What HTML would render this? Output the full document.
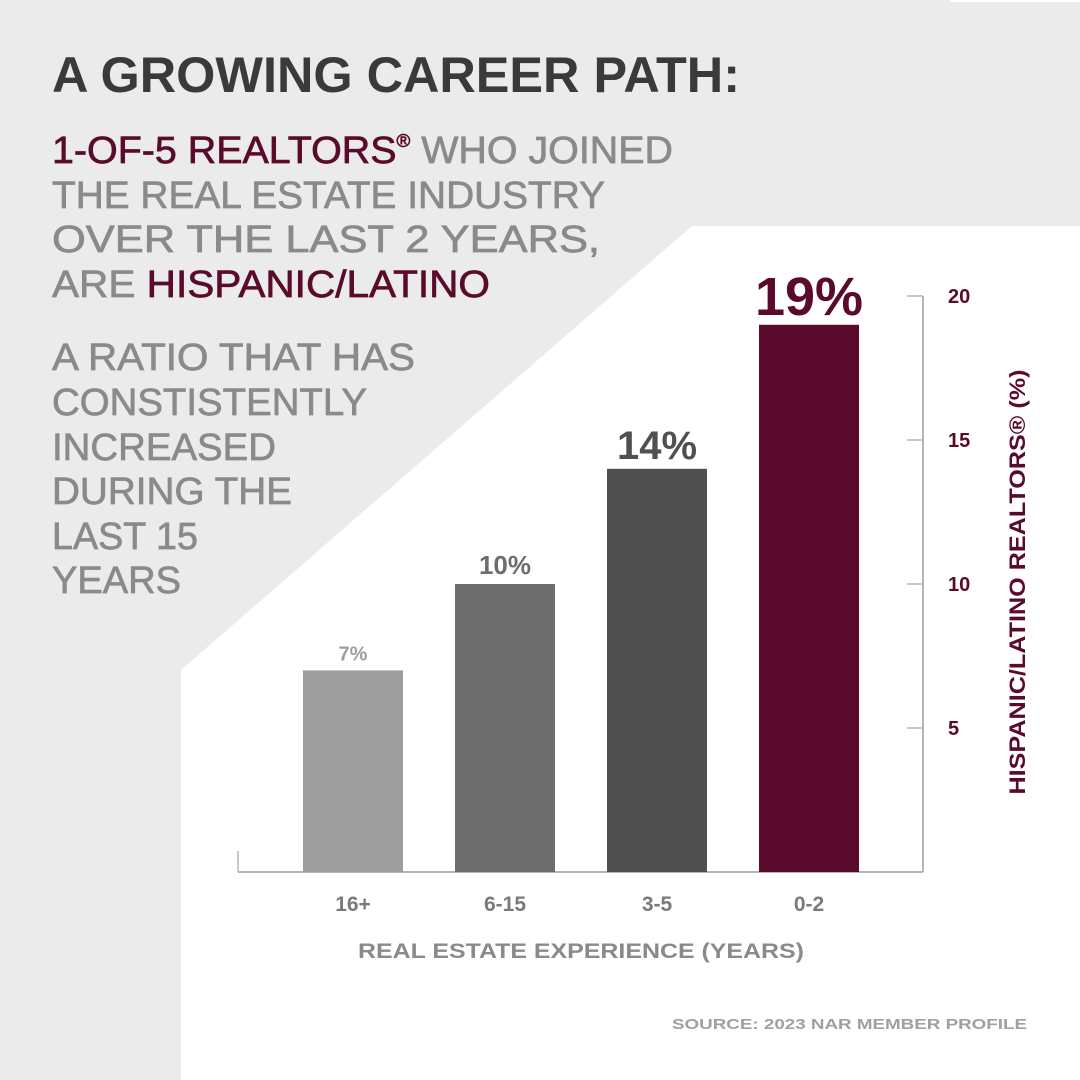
<!DOCTYPE html>
<html><head><meta charset="utf-8"><style>
html,body{margin:0;padding:0;background:#ebebeb}
svg{display:block;font-family:"Liberation Sans",sans-serif}
</style></head><body>
<svg id="chart" width="1080" height="1080" viewBox="0 0 1080 1080" xmlns="http://www.w3.org/2000/svg">
<rect x="0" y="0" width="1080" height="1080" fill="#ebebeb"/>
<polygon points="692,226 1080,226 1080,1080 181,1080 181,670" fill="#ffffff"/>
<rect x="950" y="0" width="130" height="2" fill="#ffffff"/>
<text x="52" y="92" font-size="50" font-weight="bold" fill="#3a3a3a" textLength="688" lengthAdjust="spacingAndGlyphs">A GROWING CAREER PATH:</text>
<g font-size="38" fill="#8a8a8a" stroke="#8a8a8a" stroke-width="0.7">
<text x="52" y="163" textLength="621" lengthAdjust="spacingAndGlyphs"><tspan fill="#5a0a2a" stroke="#5a0a2a">1-OF-5 REALTORS</tspan><tspan fill="#5a0a2a" stroke="#5a0a2a" font-size="18" dy="-16">®</tspan><tspan dy="16"> WHO JOINED</tspan></text>
<text x="52" y="208" textLength="553" lengthAdjust="spacingAndGlyphs">THE REAL ESTATE INDUSTRY</text>
<text x="52" y="252" textLength="548" lengthAdjust="spacingAndGlyphs">OVER THE LAST 2 YEARS,</text>
<text x="52" y="297" textLength="438" lengthAdjust="spacingAndGlyphs">ARE <tspan fill="#5a0a2a" stroke="#5a0a2a">HISPANIC/LATINO</tspan></text>
</g>
<g font-size="38" fill="#8a8a8a" stroke="#8a8a8a" stroke-width="0.7">
<text x="52" y="370" textLength="363" lengthAdjust="spacingAndGlyphs">A RATIO THAT HAS</text>
<text x="52" y="415" textLength="315" lengthAdjust="spacingAndGlyphs">CONSTISTENTLY</text>
<text x="52" y="460" textLength="224" lengthAdjust="spacingAndGlyphs">INCREASED</text>
<text x="52" y="504" textLength="240" lengthAdjust="spacingAndGlyphs">DURING THE</text>
<text x="52" y="549" textLength="146" lengthAdjust="spacingAndGlyphs">LAST 15</text>
<text x="52" y="593" textLength="129" lengthAdjust="spacingAndGlyphs">YEARS</text>
</g>
<g id="plot"></g>
<text x="581" y="958" text-anchor="middle" font-size="21" font-weight="bold" fill="#8a8a8a" textLength="446" lengthAdjust="spacingAndGlyphs">REAL ESTATE EXPERIENCE (YEARS)</text>
<text transform="translate(1025,582) rotate(-90)" text-anchor="middle" font-size="22" font-weight="bold" fill="#5a0a2a" textLength="425" lengthAdjust="spacingAndGlyphs">HISPANIC/LATINO REALTORS® (%)</text>
<text x="1027" y="1029" text-anchor="end" font-size="15" font-weight="bold" fill="#a0a0a0" textLength="355" lengthAdjust="spacingAndGlyphs">SOURCE: 2023 NAR MEMBER PROFILE</text>
</svg>
<script>
const categories = ["16+", "6-15", "3-5", "0-2"];
const values = [7, 10, 14, 19];
const valueLabels = ["7%", "10%", "14%", "19%"];
const yTicks = [5, 10, 15, 20];

const NS = "http://www.w3.org/2000/svg";
const plot = document.getElementById("plot");
const colors = ["#9e9e9e", "#6d6d6d", "#505050", "#5a0a2a"];
const labelSizes = [20, 26, 40, 54];
const y0 = 872, pxPerUnit = 28.8;
function yScale(v){ return y0 - v * pxPerUnit; }
function xScale(i){ return 303 + i * 152; }
const barW = 100;
function mk(tag, attrs){ const e = document.createElementNS(NS, tag); for (const k in attrs) e.setAttribute(k, attrs[k]); plot.appendChild(e); return e; }

let e;
e = mk("line", {x1:238, y1:872, x2:923, y2:872, stroke:"#b5b5b5", "stroke-width":2});


e = mk("line", {x1:238, y1:851, x2:238, y2:872, stroke:"#b5b5b5", "stroke-width":1.5});


e = mk("line", {x1:923, y1:yScale(20), x2:923, y2:872, stroke:"#b5b5b5", "stroke-width":2});



yTicks.forEach(t => {
  const y = yScale(t);
  let l = mk("line", {x1:907, y1:y, x2:923, y2:y, stroke:"#b5b5b5", "stroke-width":1.5});
  
  
  let tx = mk("text", {x:948, y:y + 7, "font-size":20, "font-weight":"bold", fill:"#5a0a2a"});
  tx.textContent = t;
  
  
});

values.forEach((v, i) => {
  const x = xScale(i), y = yScale(v);
  let r = mk("rect", {x:x, y:y, width:barW, height:y0 - y, fill:colors[i]});
  
  
  let lb = mk("text", {x:x + barW/2, y:y - 10, "text-anchor":"middle", "font-size":labelSizes[i], "font-weight":"bold", fill:colors[i]});
  lb.textContent = valueLabels[i];
  
  
  let cl = mk("text", {x:x + barW/2, y:911, "text-anchor":"middle", "font-size":21, "font-weight":"bold", fill:"#7a7a7a"});
  cl.textContent = categories[i];
  
  
});
</script>
</body></html>
